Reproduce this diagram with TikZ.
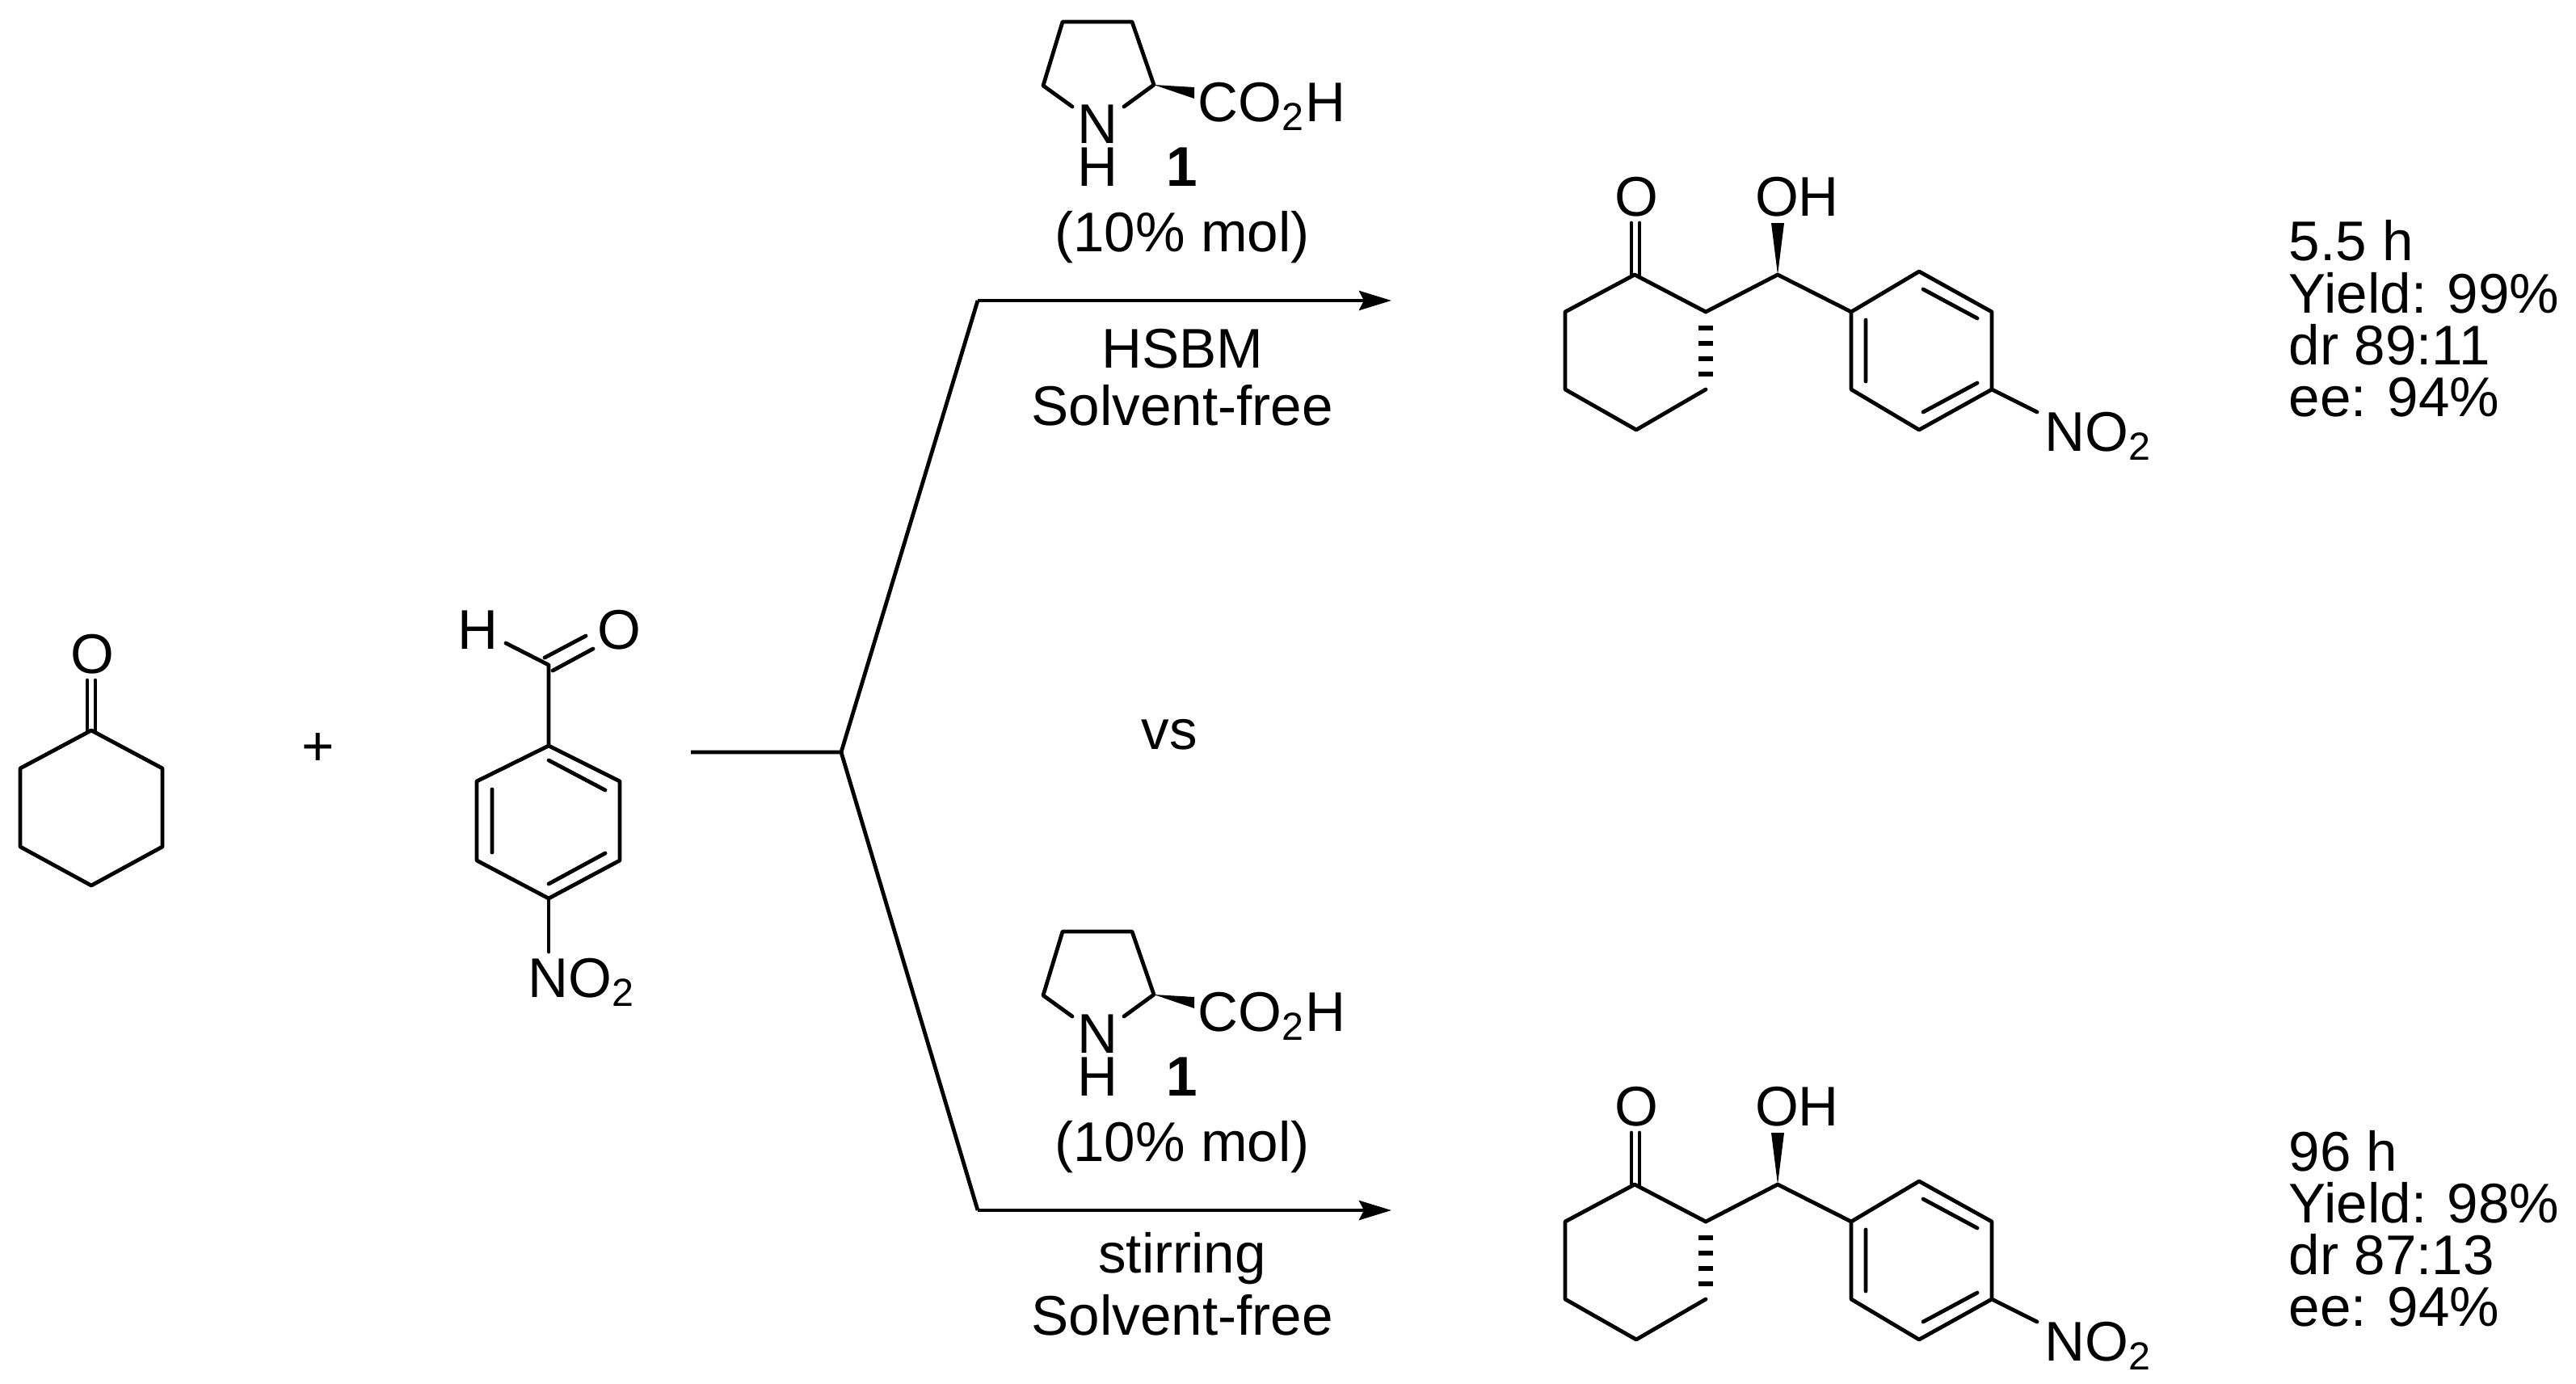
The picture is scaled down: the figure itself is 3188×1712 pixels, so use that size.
\documentclass[tikz,border=0pt]{standalone}
\usepackage{fontspec}
\setmainfont{Liberation Sans}
\usetikzlibrary{arrows.meta}
\tikzset{
  bond/.style={line width=1.2pt,line cap=round,line join=round},
  lbl/.style={inner sep=0pt,font=\fontsize{17.3}{19}\selectfont},
  rxarrow/.style={line width=1.2pt,-{Stealth[length=10pt,width=6pt,inset=1.5pt]}},
}
\newcommand{\prolinecat}{%
  \draw[bond] (1327,132) -- (1291,106) -- (1315,27) -- (1401,27) -- (1428,105) -- (1391,132);
  \fill (1428,105) -- (1478,108) -- (1478,122) -- cycle;
  \node[lbl] at (1358,154) {N};
  \node[lbl] at (1358,207) {H};
  \node[lbl,anchor=west] at (1482,132) {CO\textsubscript{2}H};
  \node[lbl] at (1463,207) {\textbf{1}};
  \node[lbl] at (1463,294) {(10\% mol)};
}
\newcommand{\aldolproduct}{%
  \draw[bond] (2111,386) -- (2023,340) -- (1937,386) -- (1937,482) -- (2025,532) -- (2111,482);
  \draw[bond] (2019,340) -- (2019,276) (2029,340) -- (2029,276);
  \node[lbl] at (2025,244) {O};
  \foreach \yy in {406,425,444,463} \draw[line width=1.6pt] (2102,\yy) -- (2120,\yy);
  \draw[bond] (2111,386) -- (2200,340) -- (2291,386);
  \fill (2200,340) -- (2192,276) -- (2208,276) -- cycle;
  \node[lbl] at (2224,244) {OH};
  \draw[bond] (2291,386) -- (2375,336) -- (2465,386) -- (2465,482) -- (2375,532) -- (2291,482) -- cycle;
  \draw[bond] (2380,358) -- (2447,394) (2309,396) -- (2309,472) (2380,510) -- (2447,474);
  \draw[bond] (2465,482) -- (2521,510);
  \node[lbl] at (2597,540) {NO\textsubscript{2}};
}
\begin{document}
\begin{tikzpicture}[x=0.25pt,y=-0.25pt]
\useasboundingbox (0,0) rectangle (3188,1712);
% cyclohexanone
\draw[bond] (113,904) -- (201,951) -- (201,1048) -- (113,1096) -- (25,1048) -- (25,951) -- cycle;
\draw[bond] (108,904) -- (108,842) (118,904) -- (118,842);
\node[lbl] (cyO) at (114,810) {O};
\node[lbl] (plus) at (394,928) {+};
% 4-nitrobenzaldehyde
\draw[bond] (679,923) -- (767,967) -- (767,1065) -- (679,1112) -- (590,1065) -- (590,967) -- cycle;
\draw[bond] (679,941) -- (749,978) (609,977) -- (609,1055) (679,1094) -- (749,1056);
\draw[bond] (679,923) -- (679,823) -- (626,796);
\draw[bond] (674,814) -- (725,787) (684,830) -- (734,803);
\node[lbl] at (591,780) {H};
\node[lbl] at (766,780) {O};
\draw[bond] (679,1112) -- (679,1178);
\node[lbl] at (720,1216) {NO\textsubscript{2}};
% branching
\coordinate (s) at (855,931);
\coordinate (j) at (1041,931);
\coordinate (t1) at (1210,372);
\coordinate (t2) at (1210,1498);
\coordinate (e1) at (1722,372);
\coordinate (e2) at (1722,1498);
\draw[line width=1.2pt] (s) -- (j) -- (t1);
\draw[line width=1.2pt] (j) -- (t2);
\draw[rxarrow] (t1) -- (e1);
\draw[rxarrow] (t2) -- (e2);
% top
\prolinecat
\node[lbl] (c1) at (1463,432) {HSBM};
\node[lbl] (c2) at (1463,502) {Solvent-free};
\aldolproduct
\node[lbl,anchor=base west] at (2832,323) {5.5 h};
\node[lbl,anchor=base west] at (2832,387) {Yield: 99\%};
\node[lbl,anchor=base west] at (2832,451) {dr 89:11};
\node[lbl,anchor=base west] at (2832,515) {ee: 94\%};
\node[lbl] (vs) at (1447,909) {vs};
% bottom
\begin{scope}[yshift=-1126*0.25pt]
\prolinecat
\node[lbl] at (1463,432) {stirring};
\node[lbl] at (1463,502) {Solvent-free};
\aldolproduct
\node[lbl,anchor=base west] at (2832,323) {96 h};
\node[lbl,anchor=base west] at (2832,387) {Yield: 98\%};
\node[lbl,anchor=base west] at (2832,451) {dr 87:13};
\node[lbl,anchor=base west] at (2832,515) {ee: 94\%};
\end{scope}
\end{tikzpicture}
\end{document}
